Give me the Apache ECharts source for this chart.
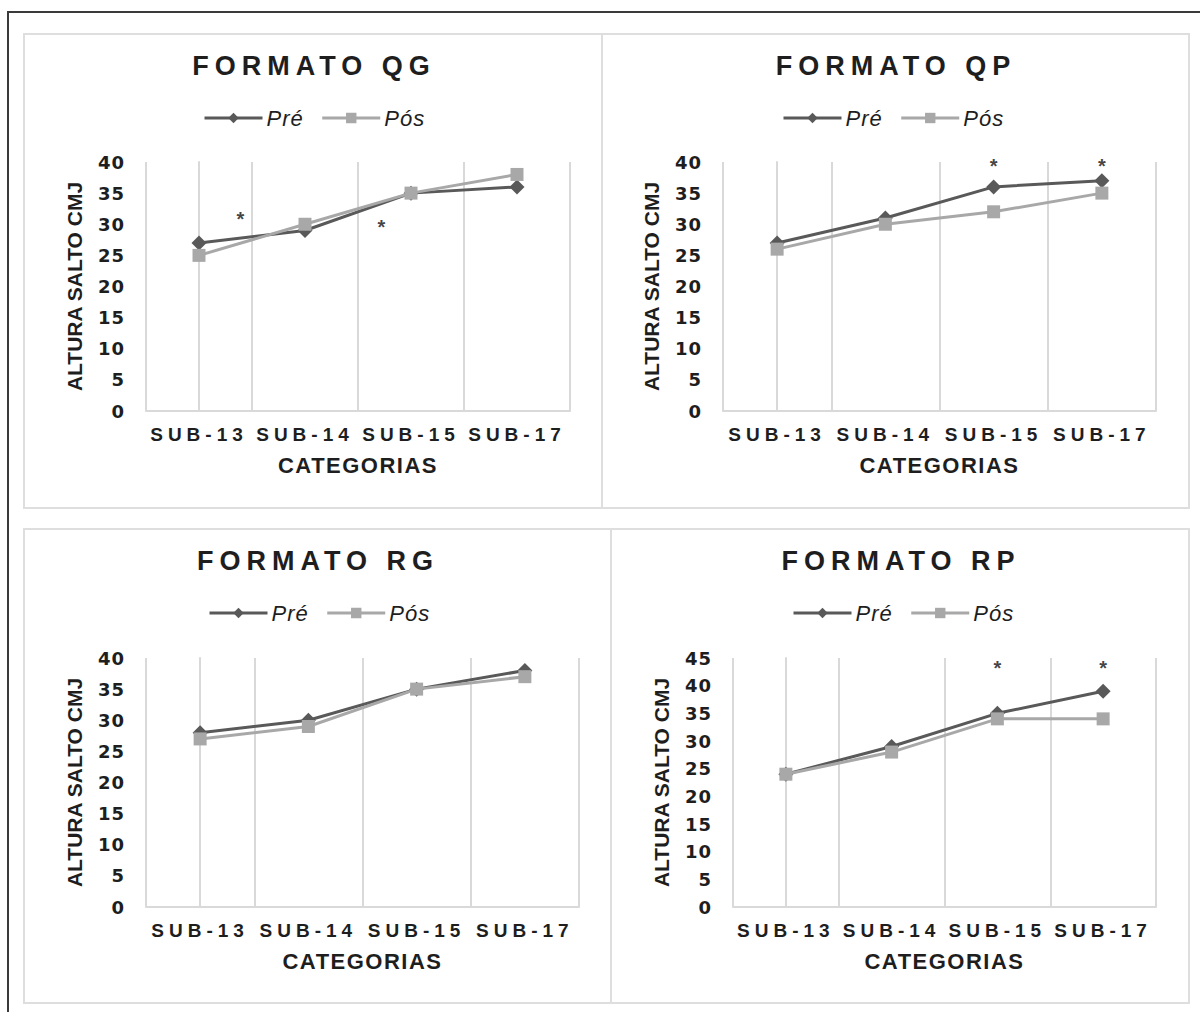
<!DOCTYPE html>
<html>
<head>
<meta charset="utf-8">
<script src="https://cdn.jsdelivr.net/npm/echarts@6/dist/echarts.min.js"></script>
<style>
html,body{margin:0;padding:0;background:#fff}
#c{width:1200px;height:1012px}
</style>
</head>
<body>
<div id="c"></div>
<script>
// ---------------- data ----------------
const categories = ['SUB-13', 'SUB-14', 'SUB-15', 'SUB-17'];
const panelTitles = ['FORMATO QG', 'FORMATO QP', 'FORMATO RG', 'FORMATO RP'];
const seriesNames = ['Pré', 'Pós'];
const preQG = [27, 29, 35, 36];
const posQG = [25, 30, 35, 38];
const preQP = [27, 31, 36, 37];
const posQP = [26, 30, 32, 35];
const preRG = [28, 30, 35, 38];
const posRG = [27, 29, 35, 37];
const preRP = [24, 29, 35, 39];
const posRP = [24, 28, 34, 34];
const yMaxes = [40, 40, 40, 45];
const yInterval = 5;
// significance asterisks: [category position, value]
const starsQG = [[0.39, 30.9], [1.72, 29.6]];
const starsQP = [[2, 39.4], [3, 39.4]];
const starsRG = [];
const starsRP = [[2, 43.2], [3, 43.2]];

const preData = [preQG, preQP, preRG, preRP];
const posData = [posQG, posQP, posRG, posRP];
const starData = [starsQG, starsQP, starsRG, starsRP];

// ---------------- layout ----------------
const gridBoxes = [
  {left: 146, top: 162, width: 424, height: 249},
  {left: 723, top: 162, width: 433, height: 249},
  {left: 146, top: 658, width: 433, height: 249},
  {left: 733, top: 658, width: 423, height: 249}
];
const titlePos = [[314, 52], [896, 52], [318, 547], [901, 547]];
const legendPos = [[203, 107], [782, 107], [208, 602], [792, 602]];
const panelRects = [
  {x: 24, y: 34, w: 578, h: 474},
  {x: 602, y: 34, w: 587, h: 474},
  {x: 24, y: 529, w: 587, h: 474},
  {x: 611, y: 529, w: 578, h: 474}
];

const FONT = "'Liberation Sans', Arial, sans-serif";
const TXT = '#1e1e1e';
const PRE_COLOR = '#595959';
const POS_COLOR = '#a8a8a8';
const GRID_COLOR = '#d9d9d9';

const option = {
  animation: false,
  backgroundColor: '#fff',
  title: [], legend: [], grid: [], xAxis: [], yAxis: [], series: [],
  graphic: []
};

option.graphic.push({
  type: 'rect', silent: true, z: 0,
  shape: {x: 8, y: 12, width: 1210, height: 1020},
  style: {fill: 'none', stroke: '#3a3a3a', lineWidth: 2}
});
panelRects.forEach(r => option.graphic.push({
  type: 'rect', silent: true, z: 0,
  shape: {x: r.x, y: r.y, width: r.w, height: r.h},
  style: {fill: 'none', stroke: '#dedede', lineWidth: 2}
}));

for (let i = 0; i < 4; i++) {
  option.title.push({
    text: panelTitles[i],
    left: titlePos[i][0], top: titlePos[i][1], textAlign: 'center',
    padding: 0,
    textStyle: {fontFamily: FONT, fontWeight: 'bold', fontSize: 27, color: TXT}
  });
  option.legend.push({
    data: seriesNames,
    left: legendPos[i][0], top: legendPos[i][1],
    padding: 0, itemGap: 20, itemWidth: 58, itemHeight: 13,
    selectedMode: false,
    lineStyle: {width: 3},
    textStyle: {fontFamily: FONT, fontStyle: 'italic', fontSize: 22, color: TXT, padding: [0, 0, 0, -1]}
  });
  option.grid.push(Object.assign({containLabel: false}, gridBoxes[i]));
  option.xAxis.push({
    type: 'category', gridIndex: i, data: categories, boundaryGap: true,
    name: 'CATEGORIAS', nameLocation: 'middle', nameGap: 43,
    nameTextStyle: {fontFamily: FONT, fontWeight: 'bold', fontSize: 22, color: TXT},
    axisLine: {show: true, lineStyle: {color: GRID_COLOR, width: 2}},
    axisTick: {show: false},
    axisLabel: {fontFamily: FONT, fontWeight: 'bold', fontSize: 19, color: TXT, margin: 14, interval: 0},
    splitLine: {show: true, lineStyle: {color: GRID_COLOR, width: 2}}
  });
  option.yAxis.push({
    type: 'value', gridIndex: i, min: 0, max: yMaxes[i], interval: yInterval,
    name: 'ALTURA SALTO CMJ', nameLocation: 'middle', nameGap: 61,
    nameTextStyle: {fontFamily: FONT, fontWeight: 'bold', fontSize: 21, color: TXT},
    axisLine: {show: true, lineStyle: {color: GRID_COLOR, width: 2}},
    axisTick: {show: false},
    axisLabel: {fontFamily: "'DejaVu Sans', sans-serif", fontWeight: 'bold', fontSize: 18, color: TXT, margin: 21},
    splitLine: {show: false}
  });
}
// hidden value axes for the asterisk annotations (category index as number)
for (let i = 0; i < 4; i++) {
  option.xAxis.push({
    type: 'value', gridIndex: i, min: -0.5, max: categories.length - 0.5, show: false
  });
}

for (let i = 0; i < 4; i++) {
  option.series.push({
    name: seriesNames[0], type: 'line', xAxisIndex: i, yAxisIndex: i,
    data: preData[i], symbol: 'diamond', symbolSize: 15,
    lineStyle: {color: PRE_COLOR, width: 3},
    itemStyle: {color: PRE_COLOR}, z: 3
  });
  option.series.push({
    name: seriesNames[1], type: 'line', xAxisIndex: i, yAxisIndex: i,
    data: posData[i], symbol: 'rect', symbolSize: 13,
    lineStyle: {color: POS_COLOR, width: 3},
    itemStyle: {color: POS_COLOR}, z: 4
  });
  option.series.push({
    name: 'sig', type: 'scatter', xAxisIndex: 4 + i, yAxisIndex: i,
    data: starData[i], symbolSize: 1, clip: false, silent: true,
    itemStyle: {color: 'rgba(0,0,0,0)'},
    label: {show: true, position: 'inside', formatter: '*', fontFamily: FONT, fontWeight: 'bold', fontSize: 20, color: '#111'},
    z: 5
  });
}

const chart = echarts.init(document.getElementById('c'), null, {renderer: 'svg'});
chart.setOption(option);

// Expanded character spacing as in the original figure
const spacing = [
  {test: t => t.indexOf('FORMATO') === 0, ls: 6},
  {test: t => /^SUB-/.test(t), ls: 5},
  {test: t => t === 'CATEGORIAS', ls: 1.5},
  {test: t => /^\d+$/.test(t), ls: 1},
  {test: t => t === 'Pré' || t === 'Pós', ls: 1}
];
function applySpacing() {
  document.querySelectorAll('#c svg text').forEach(el => {
    const t = el.textContent;
    for (const s of spacing) {
      if (s.test(t)) { el.style.letterSpacing = s.ls + 'px'; break; }
    }
  });
}
chart.on('finished', applySpacing);
applySpacing();
</script>
</body>
</html>
